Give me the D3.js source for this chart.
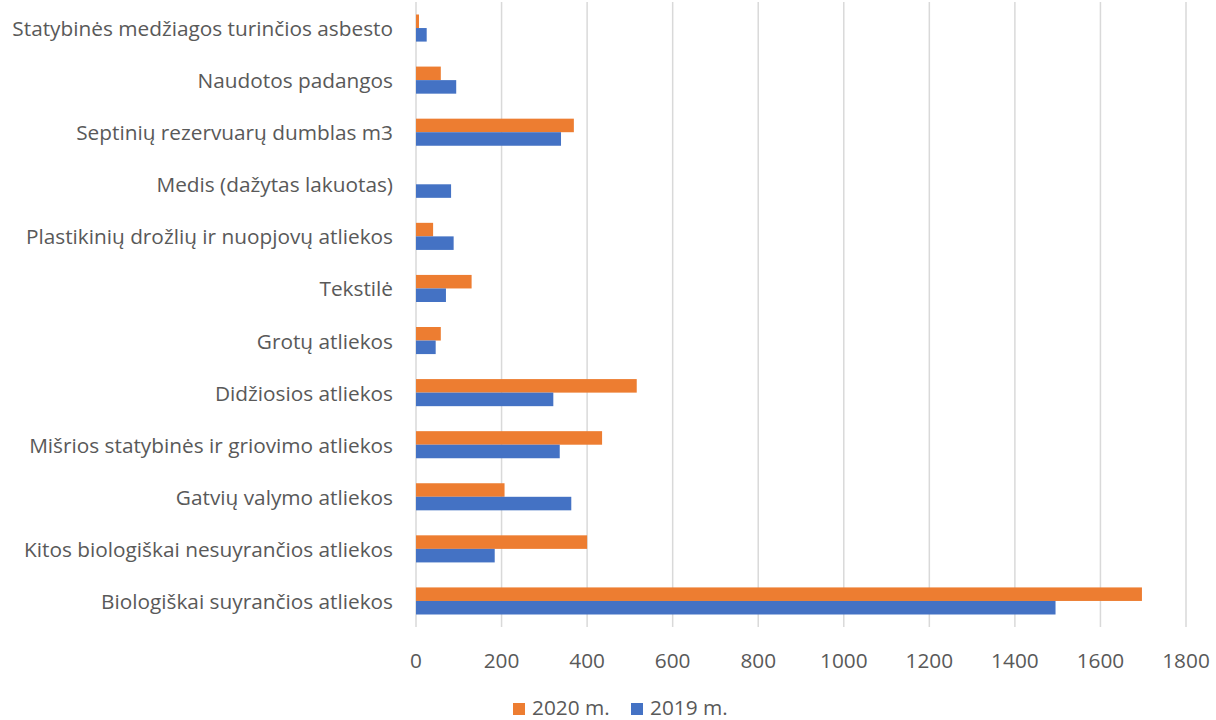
<!DOCTYPE html>
<html><head><meta charset="utf-8">
<script src="https://cdn.jsdelivr.net/npm/d3@7"></script>
<style>body{margin:0;background:#fff;}svg{display:block;}</style>
</head><body>
<svg id="c" width="1216" height="720"></svg>
<script>
const categories = [
  "Statybinės medžiagos turinčios asbesto",
  "Naudotos padangos",
  "Septinių rezervuarų dumblas m3",
  "Medis (dažytas lakuotas)",
  "Plastikinių drožlių ir nuopjovų atliekos",
  "Tekstilė",
  "Grotų atliekos",
  "Didžiosios atliekos",
  "Mišrios statybinės ir griovimo atliekos",
  "Gatvių valymo atliekos",
  "Kitos biologiškai nesuyrančios atliekos",
  "Biologiškai suyrančios atliekos"
];
const values2020 = [7, 58, 369, 0, 40, 130, 58, 516, 435, 207, 400, 1697];
const values2019 = [25, 94, 339, 82, 88, 70, 46, 321, 336, 363, 184, 1495];
const seriesNames = ["2020 m.", "2019 m."];
const xTicks = [0, 200, 400, 600, 800, 1000, 1200, 1400, 1600, 1800];

const colors = {"2020 m.": "#ED7D31", "2019 m.": "#4472C4"};
const font = "'Open Sans', 'Noto Sans', sans-serif";
const fs = 20.8;
const svg = d3.select("#c");

const x = d3.scaleLinear().domain([0, 1800]).range([416, 1186]);
const y = d3.scaleBand().domain(categories).range([2, 627]).paddingInner(0.48).paddingOuter(0.24);
const sub = d3.scaleBand().domain(seriesNames).range([0, y.bandwidth()]);

// gridlines
svg.append("g").selectAll("line").data(xTicks).join("line")
  .attr("x1", d => x(d)).attr("x2", d => x(d))
  .attr("y1", 2).attr("y2", 627)
  .attr("stroke", "#d9d9d9").attr("stroke-width", 1.5);

// bars
const data = [];
categories.forEach((c, i) => {
  data.push({c, s: "2020 m.", v: values2020[i]});
  data.push({c, s: "2019 m.", v: values2019[i]});
});
svg.append("g").selectAll("rect").data(data.filter(d => d.v > 0)).join("rect")
  .attr("x", x(0))
  .attr("y", d => y(d.c) + sub(d.s))
  .attr("width", d => x(d.v) - x(0))
  .attr("height", sub.bandwidth())
  .attr("fill", d => colors[d.s]);

// category labels
svg.append("g").selectAll("text").data(categories).join("text")
  .attr("x", 393).attr("y", d => y(d) + y.bandwidth() / 2)
  .attr("text-anchor", "end").attr("dominant-baseline", "central")
  .attr("font-family", font).attr("font-size", fs).attr("fill", "#595959")
  .text(d => d);

// tick labels
svg.append("g").selectAll("text").data(xTicks).join("text")
  .attr("x", d => x(d)).attr("y", 660)
  .attr("text-anchor", "middle").attr("dominant-baseline", "central")
  .attr("font-family", font).attr("font-size", fs).attr("fill", "#595959")
  .text(d => d);

// legend
const legendX = [513, 631];
const lg = svg.append("g").selectAll("g").data(seriesNames).join("g")
  .attr("transform", (d, i) => `translate(${legendX[i]},707)`);
lg.append("rect").attr("x", 0).attr("y", -4).attr("width", 12).attr("height", 12)
  .attr("fill", d => colors[d]);
lg.append("text").attr("x", 19).attr("y", 0).attr("dominant-baseline", "central")
  .attr("font-family", font).attr("font-size", fs).attr("fill", "#595959")
  .text(d => d);
</script>
</body></html>
